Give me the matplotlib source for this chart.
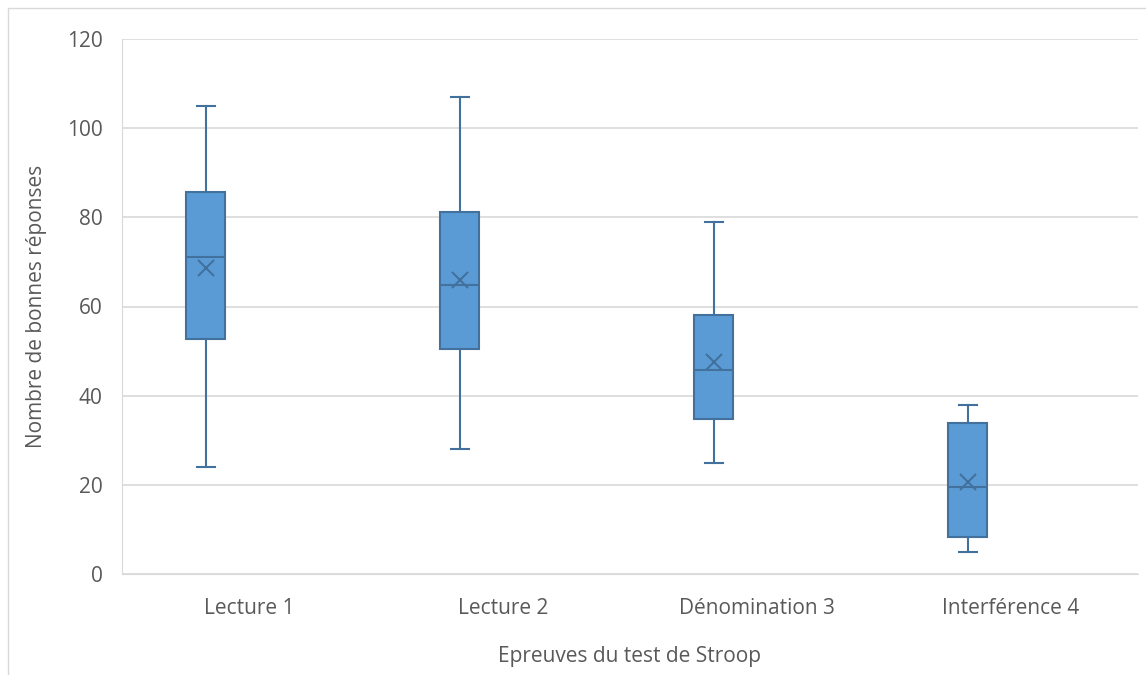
import matplotlib.pyplot as plt
from matplotlib.patches import Rectangle

# données
categories = ["Lecture 1", "Lecture 2", "Dénomination 3", "Interférence 4"]
whisker_low = [24, 28, 25, 5]
q1 = [52.7, 50.5, 34.8, 8.3]
median = [71.2, 64.8, 45.8, 19.5]
q3 = [85.7, 81.2, 58.1, 33.9]
whisker_high = [105, 107, 79, 38]
means = [68.6, 65.9, 47.5, 20.6]

plt.rcParams['font.family'] = ['Open Sans', 'DejaVu Sans']
text_color = "#595959"
fill = "#5B9BD5"
edge = "#41719C"

fig = plt.figure(figsize=(11.46, 6.75), dpi=100)
ax = fig.add_axes([122 / 1146, 1 - 574 / 675, (1138 - 122) / 1146, (574 - 39) / 675])

stats = []
for i in range(len(categories)):
    stats.append({
        "whislo": whisker_low[i], "q1": q1[i], "med": median[i],
        "q3": q3[i], "whishi": whisker_high[i], "mean": means[i],
        "fliers": [], "label": categories[i],
    })

positions = [i - 0.17 for i in range(len(categories))]
ax.bxp(stats, positions=positions, widths=0.154, showmeans=True,
       patch_artist=True, showfliers=False,
       boxprops=dict(facecolor=fill, edgecolor=edge, linewidth=1.5),
       medianprops=dict(color=edge, linewidth=1.5),
       whiskerprops=dict(color=edge, linewidth=1.5),
       capprops=dict(color=edge, linewidth=1.5),
       meanprops=dict(marker="x", markeredgecolor=edge, markersize=11, markeredgewidth=1.5),
       capwidths=0.07, zorder=3)

ax.set_xlim(-0.5, len(categories) - 0.5)
ax.set_ylim(0, 120)
ax.set_yticks(range(0, 121, 20))
ax.set_xticks(range(len(categories)))
ax.set_xticklabels(categories)
ax.yaxis.grid(True, color="#D9D9D9", linewidth=1.2, zorder=0)
ax.set_axisbelow(True)
ax.tick_params(length=0, labelsize=15, colors=text_color, pad=14)
ax.tick_params(axis="x", pad=17)
for side in ["top", "right"]:
    ax.spines[side].set_visible(False)
ax.spines["left"].set_color("#D9D9D9")
ax.spines["bottom"].set_color("#D9D9D9")

ax.set_xlabel("Epreuves du test de Stroop", fontsize=15, color=text_color, labelpad=20)
ax.set_ylabel("Nombre de bonnes réponses", fontsize=15, color=text_color, labelpad=14)

# cadre du graphique
fig.patches.append(Rectangle((8 / 1146, -0.1), 1.2, 1 - 8 / 675 + 0.1, transform=fig.transFigure,
                             fill=False, edgecolor="#D9D9D9", linewidth=1))

fig.savefig("out.png", dpi=100)
